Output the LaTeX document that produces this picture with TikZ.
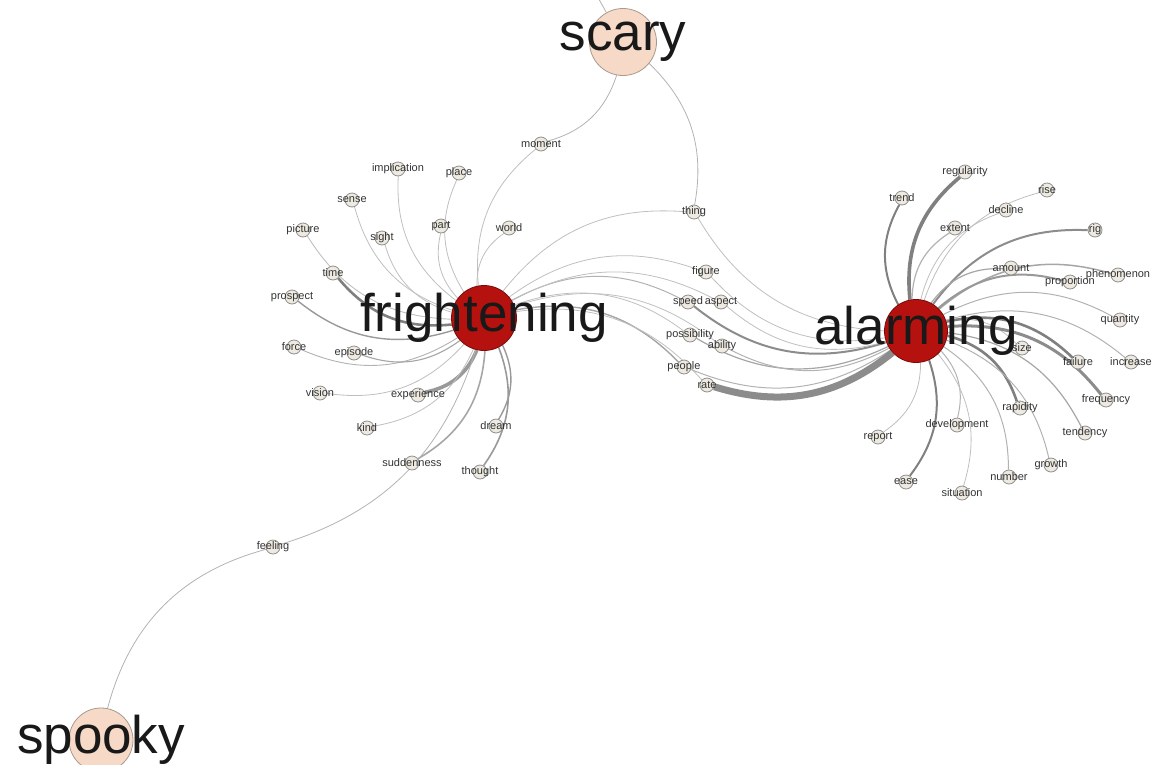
\documentclass[tikz,border=0pt]{standalone}
\usepackage{fontspec}
\setmainfont{Liberation Sans}
\usetikzlibrary{backgrounds}
\definecolor{hubred}{HTML}{B5120F}
\definecolor{hubedge}{HTML}{7A0A08}
\definecolor{peach}{HTML}{F6D9C6}
\definecolor{peachedge}{HTML}{A89A8E}
\definecolor{leaffill}{HTML}{EEEAE1}
\definecolor{leafedge}{HTML}{8E8E8E}
\tikzset{
  hub/.style={circle, fill=hubred, draw=hubedge, line width=0.8pt, minimum size=#1, inner sep=0pt},
  soft/.style={circle, fill=peach, draw=peachedge, line width=0.8pt, minimum size=#1, inner sep=0pt},
  big/.style={font=\fontsize{53}{60}\selectfont, text=black!90, inner sep=0pt},
  leaf/.style={circle, fill=leaffill, draw=leafedge, line width=0.8pt, minimum size=14pt, inner sep=0pt},
  lbl/.style={font=\fontsize{11}{13}\selectfont, text=black!80, inner sep=0pt},
  ed/.style={draw=black!#1, line width=0.8pt},
}
\begin{document}
\begin{tikzpicture}[x=1pt,y=-1pt]
\useasboundingbox (0,0) rectangle (1165,764);
% hubs
\node[hub=65pt, label={[big]center:frightening}] (fr) at (484,318) {};
\node[hub=63pt, label={[big]center:alarming}] (al) at (916,331) {};
\node[soft=67pt, label={[big]center:scary}] (scary) at (623,42) {};
\node[soft=64pt, label={[big]center:spooky}] (spooky) at (101,740) {};
\coordinate (scarytop) at (596,-6);
% leaves
\foreach \n/\x/\y in {
  implication/398/169, place/459/173, sense/352/200, picture/303/230,
  sight/382/238, part/441/226, world/509/228, moment/541/144,
  time/333/273, prospect/292/297, force/294/347, episode/354/353,
  vision/320/393, experience/418/395, kind/367/428, dream/496/426,
  suddenness/412/463, thought/480/472, feeling/273/547, thing/694/212,
  figure/706/272, speed/688/302, aspect/721/302, possibility/690/335,
  ability/722/346, people/684/367, rate/707/385,
  trend/902/198, regularity/965/172, rise/1047/190, decline/1006/210,
  extent/955/228, rig/1095/230, amount/1011/268, phenomenon/1118/275,
  proportion/1070/282, quantity/1120/320, size/1022/348, failure/1078/362,
  increase/1131/362, frequency/1106/400, rapidity/1020/408,
  tendency/1085/433, development/957/425, report/878/437, growth/1051/465,
  number/1009/477, situation/962/493, ease/906/482}
  \node[leaf, label={[lbl]center:\n}] (\n) at (\x,\y) {};
\begin{pgfonlayer}{background}
  % frightening edges
  \foreach \n/\w/\c in {
    implication/0.8/25, place/0.8/25, sense/0.8/25, picture/0.9/25,
    sight/0.8/25, part/0.8/25, world/0.8/25, moment/0.8/25,
    time/2.6/50, prospect/1.4/40, force/0.9/30, episode/1.1/35,
    vision/0.8/25, experience/3.6/40, kind/0.8/25, dream/1.4/40,
    suddenness/1.6/35, thought/1.6/40, feeling/0.8/30, thing/0.8/25,
    figure/0.8/25, speed/1.0/30, aspect/0.8/25, possibility/0.8/25,
    ability/0.8/25, people/1.4/35, rate/0.8/25}
    \draw[ed=\c, line width=\w pt] (fr) to[bend left=28] (\n);
  % alarming edges
  \foreach \n/\w/\c in {
    thing/0.8/25, figure/0.8/25, speed/2.0/45, aspect/0.8/25,
    possibility/1.2/35, ability/1.0/30, people/1.0/30, rate/7.0/45,
    trend/2.0/50, regularity/3.6/50, rise/0.8/25, decline/0.8/25,
    extent/1.2/30, rig/2.0/45, amount/1.2/35, phenomenon/1.5/35,
    proportion/2.0/40, quantity/1.0/30, size/0.8/25, failure/2.6/50,
    increase/1.0/30, frequency/3.0/45, rapidity/2.6/50, tendency/1.2/35,
    development/1.0/30, report/0.8/25, growth/1.0/30, number/1.0/30,
    situation/0.8/25, ease/2.0/50}
    \draw[ed=\c, line width=\w pt] (al) to[bend left=28] (\n);
  \draw[ed=30] (scary) to[bend left=28] (moment);
  \draw[ed=30] (scary) to[bend left=28] (thing);
  \draw[ed=30] (scary) -- (scarytop);
  \draw[ed=30] (spooky) to[bend left=30] (feeling);
\end{pgfonlayer}
\end{tikzpicture}
\end{document}
